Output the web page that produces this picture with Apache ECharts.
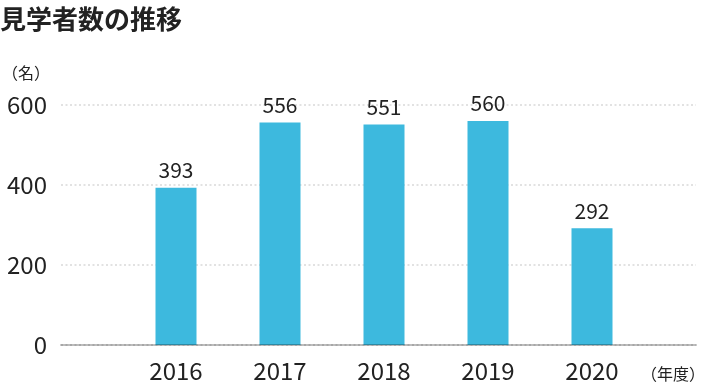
<!DOCTYPE html>
<html><head><meta charset="utf-8">
<script src="https://cdn.jsdelivr.net/npm/echarts@6/dist/echarts.min.js"></script>
<style>html,body{margin:0;padding:0;background:#fff}#c{width:714px;height:390px}</style>
</head><body><div id="c"></div>
<script>
const titleText = '見学者数の推移';
const yUnit = '（名）';
const xUnit = '（年度）';
const categories = ['2016', '2017', '2018', '2019', '2020'];
const visitors = [393, 556, 551, 560, 292];
const yTicks = [0, 200, 400, 600];

const FONT = '"Noto Sans CJK JP", "Noto Sans", sans-serif';
const chart = echarts.init(document.getElementById('c'), null, {renderer: 'canvas'});
chart.setOption({
  animation: false,
  backgroundColor: '#fff',
  textStyle: {fontFamily: FONT},
  graphic: [
    {type: 'text', left: 0, top: 6, style: {text: titleText, fontSize: 26, fontWeight: 'bold', fill: '#222', fontFamily: FONT}},
    {type: 'text', left: 2, top: 65, style: {text: yUnit, fontSize: 16, fill: '#222', fontFamily: FONT}},
    {type: 'text', left: 641, top: 366, style: {text: xUnit, fontSize: 16, fill: '#222', fontFamily: FONT}}
  ],
  grid: [
    {left: 61, right: 18, top: 105, bottom: 45},
    {left: 124, right: 70, top: 105, bottom: 45}
  ],
  xAxis: [
    {gridIndex: 0, type: 'category', data: [''], z: 5,
     axisLine: {show: true, lineStyle: {color: 'rgba(0,0,0,0.26)', width: 2}},
     axisTick: {show: false}, axisLabel: {show: false}, splitLine: {show: false}},
    {gridIndex: 1, type: 'category', data: categories,
     axisLine: {show: false}, axisTick: {show: false},
     axisLabel: {fontSize: 24, color: '#222', margin: 14, fontFamily: FONT}}
  ],
  yAxis: [
    {gridIndex: 0, type: 'value', min: yTicks[0], max: yTicks[yTicks.length - 1], interval: 200,
     axisLine: {show: false}, axisTick: {show: false},
     axisLabel: {fontSize: 24, color: '#222', margin: 14, fontFamily: FONT},
     splitLine: {show: true, lineStyle: {color: '#d9d9d9', width: 1.5, type: [2, 2.5]}}},
    {gridIndex: 1, type: 'value', min: yTicks[0], max: yTicks[yTicks.length - 1], interval: 200, show: false,
     splitLine: {show: false}}
  ],
  series: [{
    type: 'bar', xAxisIndex: 1, yAxisIndex: 1, data: visitors, barWidth: 41,
    itemStyle: {color: '#3db9de'},
    label: {show: true, position: 'top', distance: 7, fontSize: 21, color: '#222', fontFamily: FONT}
  }]
});
</script></body></html>
